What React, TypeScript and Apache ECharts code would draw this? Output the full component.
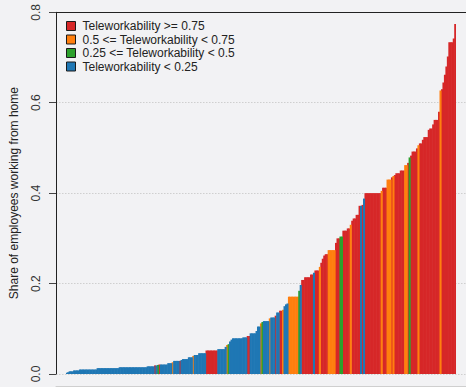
import React, { useEffect, useRef } from "react";
import * as echarts from "echarts";

// Share of employees working from home, one bar per occupation (sorted)
const shares: number[] = [
  0.003, 0.004, 0.006, 0.006, 0.006, 0.008, 0.008, 0.008, 0.008,
  0.010, 0.010, 0.010, 0.010, 0.010, 0.010, 0.010, 0.010, 0.010, 0.010, 0.010, 0.010,
  0.013, 0.013, 0.013, 0.013, 0.013, 0.013, 0.013, 0.013, 0.013, 0.013, 0.013, 0.013, 0.013, 0.013, 0.013,
  0.015, 0.015, 0.015, 0.015, 0.015, 0.015, 0.015, 0.015, 0.015, 0.015,
  0.015, 0.015, 0.015, 0.015, 0.015, 0.015, 0.015, 0.015, 0.015,
  0.017, 0.017, 0.017, 0.017, 0.017,
  0.019, 0.019, 0.020, 0.021,
  0.021, 0.021, 0.021, 0.021, 0.021, 0.024, 0.024, 0.024,
  0.026, 0.029, 0.029, 0.029, 0.029, 0.029,
  0.031, 0.033, 0.033, 0.033, 0.033, 0.037, 0.037, 0.037,
  0.040, 0.042, 0.042, 0.042, 0.046, 0.046, 0.046, 0.046, 0.046,
  0.052, 0.052, 0.052, 0.052, 0.052, 0.052, 0.052, 0.052,
  0.055, 0.055, 0.055, 0.055, 0.055, 0.060, 0.064, 0.066,
  0.072, 0.076, 0.079, 0.079, 0.079, 0.079, 0.079, 0.079, 0.079,
  0.081, 0.081, 0.081, 0.084, 0.084, 0.090, 0.090, 0.090, 0.090,
  0.095, 0.105, 0.105, 0.112, 0.115, 0.117, 0.117, 0.117, 0.117, 0.123,
  0.125, 0.125, 0.125, 0.129, 0.136, 0.136, 0.140, 0.140, 0.142,
  0.150, 0.154, 0.156, 0.171, 0.171, 0.171, 0.171, 0.171, 0.171, 0.171,
  0.184, 0.197, 0.208, 0.208, 0.214, 0.214, 0.214, 0.214, 0.220, 0.220,
  0.224, 0.229, 0.229, 0.229, 0.237, 0.246, 0.255, 0.262, 0.265, 0.265,
  0.274, 0.274, 0.274, 0.274, 0.274, 0.290, 0.300, 0.300, 0.304, 0.304,
  0.317, 0.317, 0.317, 0.322, 0.322, 0.330, 0.339, 0.344, 0.344,
  0.352, 0.352, 0.372, 0.372, 0.374, 0.388,
  0.400, 0.400, 0.400, 0.400, 0.400, 0.400, 0.400, 0.400, 0.400, 0.400, 0.400,
  0.405, 0.412, 0.412, 0.412, 0.430, 0.430, 0.430, 0.435, 0.438, 0.440,
  0.444, 0.444, 0.444, 0.450, 0.450, 0.450, 0.462, 0.462, 0.467, 0.479, 0.483,
  0.492, 0.492, 0.492, 0.499, 0.506, 0.510, 0.510, 0.518, 0.524, 0.524, 0.524,
  0.540, 0.543, 0.543, 0.552, 0.562, 0.562, 0.562, 0.580,
  0.627, 0.630, 0.645, 0.662, 0.680, 0.702, 0.734, 0.734, 0.734, 0.742, 0.774,
];

// Teleworkability class of each bar (R >= 0.75, O 0.5-0.75, G 0.25-0.5, B < 0.25)
const groupCodesPerBar: string = [
  "BBBBBBBBB",
  "BBBBBBBBBBBB",
  "BBBBBBBBBBBBBBB",
  "BBBBBBBBBB",
  "BBBBBBBBB",
  "BBBBB",
  "RBGR",
  "BBBBBBBB",
  "OBBBBR",
  "BBBBBBBB",
  "OBBBBBBBB",
  "RRRRRRRR",
  "BBBBBBOG",
  "BBBBBBBBB",
  "BBBRRBBBB",
  "BBBOGBBBBO",
  "BBBRBBRRO",
  "BBBOOOOOOO",
  "GBRRRRRRRR",
  "BRRRORRRRR",
  "OOOOORRRGG",
  "RRRRRORRR",
  "RRRBRB",
  "RRRRRRRRRRR",
  "ORRROOOROR",
  "RRRRRROORGR",
  "RRRRORRRRRR",
  "RRRRRRRR",
  "ORRRRRRRRRR",
].join("");

const groupCodes = ["R", "O", "G", "B"];
const groupNames = [
  "Teleworkability >= 0.75",
  "0.5 <= Teleworkability < 0.75",
  "0.25 <= Teleworkability < 0.5",
  "Teleworkability < 0.25",
];
const groupColors = ["#d62728", "#ff7f0e", "#2ca02c", "#1f77b4"];

const yAxisTitle = "Share of employees working from home";
const FONT = "'Liberation Sans', Arial, Helvetica, sans-serif";

export default function App() {
  const ref = useRef<HTMLDivElement>(null);

  useEffect(() => {
    if (!ref.current) return;
    const chart = echarts.init(ref.current, undefined, { renderer: "svg" });
    const categories = shares.map((_, i) => String(i + 1));

    const series = groupCodes.map((code, gi) => ({
      name: groupNames[gi],
      type: "bar",
      xAxisIndex: 2,
      yAxisIndex: 1,
      stack: "all",
      barWidth: 2.1,
      itemStyle: { color: groupColors[gi] },
      emphasis: { disabled: true },
      data: shares.map((v, i) => (groupCodesPerBar[i] === code ? v : "-")),
    }));

    chart.setOption({
      animation: false,
      backgroundColor: "#f2f2f4",
      textStyle: { fontFamily: FONT },
      legend: {
        orient: "vertical",
        left: 61,
        top: 15,
        itemWidth: 9,
        itemHeight: 9,
        itemGap: 1.5,
        icon: "rect",
        selectedMode: false,
        itemStyle: { borderColor: "#1a1a1a", borderWidth: 1 },
        textStyle: {
          fontFamily: FONT,
          fontSize: 12,
          lineHeight: 12,
          color: "#222",
          padding: [0, 0, 0, 2],
        },
        data: groupNames,
      },
      grid: [
        { left: 50, right: -10, top: 12.3, bottom: 13 },
        { left: 66, right: 10, top: 12.3, bottom: 13 },
      ],
      xAxis: [
        {
          gridIndex: 0,
          type: "value",
          position: "top",
          min: 0,
          max: 1,
          axisLine: { show: true, onZero: false, lineStyle: { color: "#222", width: 1 } },
          axisTick: { show: false },
          axisLabel: { show: false },
          splitLine: { show: false },
        },
        {
          gridIndex: 0,
          type: "value",
          position: "bottom",
          offset: 12,
          min: 0,
          max: 1,
          axisLine: { show: true, onZero: false, lineStyle: { color: "#cfcfcf", width: 1 } },
          axisTick: { show: false },
          axisLabel: { show: false },
          splitLine: { show: false },
        },
        {
          gridIndex: 1,
          type: "category",
          data: categories,
          show: false,
        },
      ],
      yAxis: [
        {
          gridIndex: 0,
          type: "value",
          min: 0,
          max: 0.8,
          interval: 0.2,
          name: yAxisTitle,
          nameLocation: "middle",
          nameRotate: 90,
          nameGap: 36,
          nameTextStyle: { fontFamily: FONT, fontSize: 12, color: "#222" },
          axisLine: { show: true, onZero: false, lineStyle: { color: "#222", width: 1 } },
          axisTick: { show: true, length: 7, lineStyle: { color: "#444" } },
          axisLabel: {
            rotate: 90,
            margin: 14,
            fontFamily: FONT,
            fontSize: 12,
            color: "#333",
            formatter: (v: number) => v.toFixed(1),
          },
          splitLine: {
            show: true,
            lineStyle: { color: "#cfcfcf", width: 1, type: [1.5, 1.5] },
          },
        },
        {
          gridIndex: 1,
          type: "value",
          min: 0,
          max: 0.8,
          show: false,
          splitLine: { show: false },
        },
      ],
      series,
    });

    return () => chart.dispose();
  }, []);

  return (
    <div
      ref={ref}
      style={{ position: "absolute", left: 0, top: 0, width: 466, height: 387 }}
    />
  );
}
